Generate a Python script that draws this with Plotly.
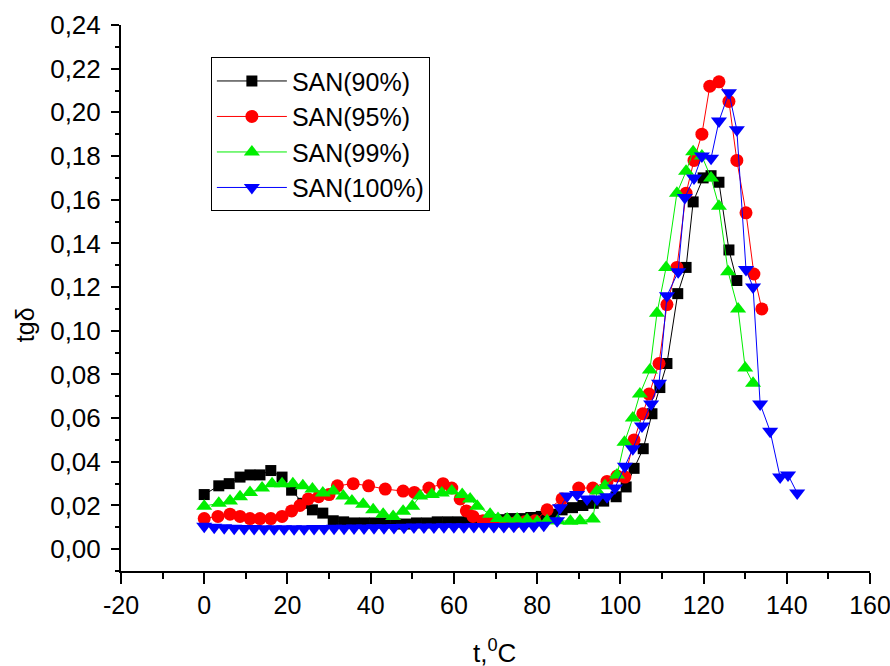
import plotly.graph_objects as go

# SAN(90%)
x90 = [0, 3.5, 6, 8.6, 11, 13.4, 16, 18.7, 21, 23.7, 26, 28.5, 31, 33.5, 36, 38.5, 41, 43.5,
       46, 48.5, 51, 53.5, 56, 58.5, 61, 63.5, 66, 68.5, 71, 73.5, 76, 78.5, 81, 83.5, 86,
       88.5, 91, 93.5, 96, 99, 101.4, 103.3, 105.5, 107.6, 109.5, 111.2, 113.8, 115.8, 117.5,
       119.9, 121.8, 123.7, 126.1, 128]
y90 = [0.025, 0.029, 0.030, 0.033, 0.034, 0.034, 0.036, 0.033, 0.027, 0.021, 0.018, 0.0165,
       0.013, 0.0125, 0.012, 0.012, 0.012, 0.012, 0.0115, 0.0115, 0.012, 0.012, 0.0125, 0.0125,
       0.0125, 0.013, 0.013, 0.013, 0.0135, 0.014, 0.014, 0.0145, 0.015, 0.016, 0.018, 0.019,
       0.020, 0.021, 0.022, 0.024, 0.0285, 0.037, 0.046, 0.062, 0.074, 0.085, 0.117, 0.129,
       0.159, 0.170, 0.171, 0.168, 0.137, 0.123]

# SAN(95%)
x95 = [0, 3.3, 6.2, 8.6, 11, 13.4, 16, 18.7, 21, 23, 25, 27.5, 30, 32, 35.8, 39.5, 43.5, 47.8,
       50.5, 54, 57.4, 59.5, 61.5, 63, 64.6, 67, 69.5, 72, 74.5, 77, 79.5, 82.4, 86, 90, 93.4,
       96.8, 99.2, 101.1, 103.3, 105.4, 106.9, 109.3, 111.2, 113.6, 115.8, 117.7, 119.6, 121.5,
       123.7, 126.1, 128, 130.2, 132.1, 134]
y95 = [0.014, 0.015, 0.016, 0.015, 0.014, 0.014, 0.014, 0.015, 0.0175, 0.020, 0.023, 0.024,
       0.025, 0.029, 0.030, 0.029, 0.0275, 0.0266, 0.026, 0.028, 0.030, 0.028, 0.023, 0.0175,
       0.015, 0.013, 0.0125, 0.012, 0.012, 0.0125, 0.013, 0.018, 0.023, 0.028, 0.028, 0.031,
       0.0335, 0.033, 0.050, 0.062, 0.071, 0.085, 0.112, 0.129, 0.163, 0.178, 0.190, 0.212,
       0.214, 0.205, 0.178, 0.154, 0.126, 0.110]

# SAN(99%)
x99 = [0, 3.5, 6.2, 8.6, 11, 13.9, 16.3, 18.7, 21.3, 23.7, 26, 28.5, 31, 33.4, 35.5, 38.2,
       40.6, 43, 45.4, 47.8, 50, 51.9, 54.7, 57.1, 59.5, 62, 63.9, 65.6, 68.7, 70.6, 72.8,
       75.2, 77.6, 80, 82.4, 85, 88, 90.3, 93.4, 94.4, 96.3, 99.2, 101, 103, 104.7, 107.1,
       108.8, 111, 113.6, 115.8, 117.5, 119.6, 121.8, 123.7, 125.9, 128.3, 130, 131.9]
y99 = [0.0197, 0.021, 0.022, 0.024, 0.026, 0.028, 0.030, 0.030, 0.030, 0.029, 0.0275, 0.0257,
       0.0266, 0.0243, 0.022, 0.0206, 0.018, 0.016, 0.015, 0.0174, 0.0197, 0.0243, 0.025,
       0.0257, 0.0266, 0.025, 0.023, 0.0197, 0.016, 0.014, 0.0138, 0.0138, 0.0135, 0.0125,
       0.013, 0.013, 0.0128, 0.013, 0.0138, 0.0266, 0.029, 0.034, 0.049, 0.060, 0.071, 0.082,
       0.108, 0.129, 0.163, 0.173, 0.182, 0.180, 0.170, 0.157, 0.127, 0.110, 0.083, 0.076]

# SAN(100%)
x100 = [0, 2.4, 4.8, 7.2, 9.6, 12, 14.4, 16.8, 19.2, 21.6, 24, 26.4, 28.8, 31.2, 33.6, 36,
        38.4, 40.8, 43.2, 45.6, 48, 50.4, 52.8, 55.2, 57.6, 60, 62.4, 64.8, 67.2, 69.6, 72,
        74.4, 76.8, 79.2, 81.6, 84.8, 85.5, 87.2, 89.6, 92, 94.4, 96.8, 98.7, 101.1, 103,
        105.2, 107.4, 109.3, 111.2, 113.9, 115.5, 117.7, 119.6, 121.8, 123.7, 126.1, 128,
        130.2, 131.9, 133.6, 136, 138.4, 140.3, 142.5]
y100 = [0.0105, 0.0100, 0.0098, 0.0096, 0.0095, 0.0095, 0.0094, 0.0094, 0.0094, 0.0094,
        0.0094, 0.0095, 0.0095, 0.0096, 0.0096, 0.0097, 0.0097, 0.0098, 0.0098, 0.0099,
        0.0100, 0.0101, 0.0102, 0.0102, 0.0103, 0.0103, 0.0103, 0.0104, 0.0104, 0.0104,
        0.0104, 0.0105, 0.0105, 0.0106, 0.0110, 0.013, 0.019, 0.0243, 0.025, 0.023, 0.023,
        0.024, 0.028, 0.038, 0.046, 0.0564, 0.0665, 0.076, 0.116, 0.127, 0.161, 0.170, 0.180,
        0.179, 0.196, 0.209, 0.192, 0.128, 0.120, 0.0665, 0.054, 0.033, 0.034, 0.0257]

y_ticks = [0.00, 0.02, 0.04, 0.06, 0.08, 0.10, 0.12, 0.14, 0.16, 0.18, 0.20, 0.22, 0.24]
y_tick_labels = ["0,00", "0,02", "0,04", "0,06", "0,08", "0,10", "0,12", "0,14",
                 "0,16", "0,18", "0,20", "0,22", "0,24"]
x_ticks = [-20, 0, 20, 40, 60, 80, 100, 120, 140, 160]
x_tick_labels = ["-20", "0", "20", "40", "60", "80", "100", "120", "140", "160"]

x_title = "t,<sup>0</sup>C"
y_title = "tgδ"

names = ["SAN(90%)", "SAN(95%)", "SAN(99%)", "SAN(100%)"]
colors = ["#000000", "#ff0000", "#00ee00", "#0000ff"]
symbols = ["square", "circle", "triangle-up", "triangle-down"]
sizes = [11, 13, 14, 14]

fig = go.Figure()
for xs, ys, n, c, s, sz in zip([x90, x95, x99, x100], [y90, y95, y99, y100],
                               names, colors, symbols, sizes):
    fig.add_trace(go.Scatter(
        x=xs, y=ys, name=n, mode="lines+markers",
        line=dict(color=c, width=1),
        marker=dict(symbol=s, size=sz, color=c, line=dict(width=0)),
    ))

font_family = "Liberation Sans, Arial, sans-serif"
fig.update_layout(
    width=890, height=666,
    margin=dict(l=121, r=20, t=25, b=95, autoexpand=False),
    paper_bgcolor="white", plot_bgcolor="white",
    font=dict(family=font_family, size=26, color="black"),
    showlegend=True,
    legend=dict(
        x=0.12, y=0.941, xanchor="left", yanchor="top",
        bordercolor="black", borderwidth=1, bgcolor="white",
        font=dict(size=25, family=font_family),
        itemwidth=70,
    ),
    xaxis=dict(
        range=[-20, 160], tickvals=x_ticks, ticktext=x_tick_labels,
        ticklabeloverflow="allow", automargin=False,
        showgrid=False, zeroline=False,
        showline=True, linecolor="black", linewidth=2,
        ticks="outside", ticklen=11, tickwidth=2, tickcolor="black",
        minor=dict(ticks="outside", ticklen=6, tickwidth=2, tickcolor="black", dtick=10),
        tickfont=dict(size=25),
    ),
    yaxis=dict(
        range=[-0.01, 0.24], tickvals=y_ticks, ticktext=y_tick_labels,
        automargin=False, ticklabelstandoff=5,
        showgrid=False, zeroline=False,
        showline=True, linecolor="black", linewidth=2,
        ticks="outside", ticklen=8, tickwidth=2, tickcolor="black",
        minor=dict(ticks="outside", ticklen=4, tickwidth=2, tickcolor="black", dtick=0.01),
        tickfont=dict(size=26),
    ),
    annotations=[
        dict(text=x_title, xref="paper", yref="paper", x=0.4993, y=-0.147,
             xanchor="center", yanchor="middle", showarrow=False, font=dict(size=26)),
        dict(text=y_title, xref="paper", yref="paper", x=-0.128, y=0.4505, textangle=-90,
             xanchor="center", yanchor="middle", showarrow=False, font=dict(size=25)),
    ],
)

fig.write_html("out.html", config={"displayModeBar": False},
               post_script="document.body.style.margin='0';")
